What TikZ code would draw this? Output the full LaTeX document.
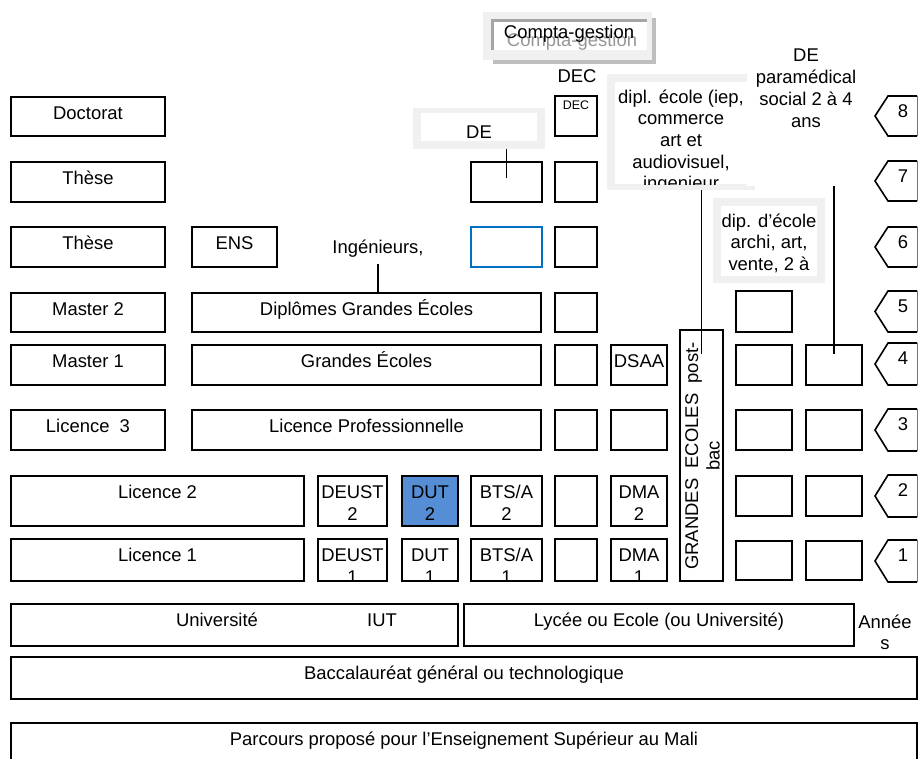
\documentclass[tikz,border=0pt]{standalone}
\usepackage{fontspec}
\setmainfont{Liberation Sans}
\usetikzlibrary{calc}
\definecolor{dutblue}{RGB}{85,142,213}
\definecolor{edgeblue}{RGB}{0,112,192}
\definecolor{framegray}{RGB}{240,240,240}
\definecolor{shadowgray}{RGB}{190,190,190}
\definecolor{innergray}{RGB}{165,165,165}
\definecolor{ghostgray}{RGB}{150,150,150}
\newcommand\ml[1]{\begin{tabular}[t]{@{}c@{}}#1\end{tabular}}
\newcommand\mkbox[6][]{%
  \node[boxst,#1,minimum width={(#5-#3)*1bp},minimum height={(#6-#4)*1bp}] (#2) at ({(#3+#5)/2},{(#4+#6)/2}) {};}
\newcommand\boxtext[3]{\node[lbl] (#1) at ([yshift=-22.5bp]#2.north) {#3};}
\newcommand\cliptext[3]{\begin{scope}
  \clip ([shift={(0.8bp,0.8bp)}]#2.south west) rectangle ([shift={(-0.8bp,-0.8bp)}]#2.north east);
  \node[lbl] (#1) at ([yshift=-22.5bp]#2.north) {#3};\end{scope}}
\newcommand\pent[4]{%
  \draw[pentst] (917,#2) -- (888,#2) -- (875,{(#2+#3)/2}) -- (888,#3) -- (917,#3);
  \draw[pentedge] (917,#2) -- (917,#3);
  \node[lbl] (#1) at (903,{#2+21}) {#4};}
\begin{document}
\begin{tikzpicture}[x=1bp,y=-1bp,
  boxst/.style={draw, line width=1.6bp, inner sep=0, outer sep=0, fill=white},
  lbl/.style={font=\fontsize{18.5}{21.8}\selectfont, inner sep=0, anchor=base},
  small/.style={font=\fontsize{12.5}{14}\selectfont, inner sep=0, anchor=base},
  conn/.style={line width=1.6bp},
  pentst/.style={line width=1.6bp, line join=miter},
  pentedge/.style={line width=0.8bp, draw=black!55},
  framest/.style={fill=framegray, draw=none, inner sep=0, outer sep=0}]
\path[use as bounding box] (0,0) rectangle (923,759);
\clip (0,0) rectangle (923,759);

% ---- Compta-gestion frame
\fill[shadowgray] (493,18) rectangle (656,64);
\node[framest, minimum width=169bp, minimum height=48bp] (cgframe) at (567.5,36) {};
\fill[white] (491,19) rectangle (647,50);
\fill[innergray] (491,19) rectangle (647,22.5);
\fill[innergray] (491,19) rectangle (493.5,50);
\begin{scope}\clip (493.5,22.5) rectangle (647,50);
\node[lbl, text=ghostgray] (cgghost) at (572,47) {Compta-gestion};
\end{scope}
\node[lbl] (cg) at (569,39) {Compta-gestion};

% ---- DEC label
\node[lbl] (declbl) at (577,83) {DEC};

% ---- DE frame
\node[framest, minimum width=132bp, minimum height=41bp] (deframe) at (479,128.5) {};
\fill[white] (421,113) rectangle (537,141);
\node[lbl] (detxt) at (479,138) {DE};

% ---- dipl. ecole frame
\node[framest, minimum width=148bp, minimum height=116bp] (diplf) at (681,132) {};
\fill[white] (615,82) rectangle (747,184);
\begin{scope}\clip (615,82) rectangle (747,184);
\node[lbl] (dipltxt) at (681,103) {\ml{dipl. école (iep,\\commerce\\art et\\audiovisuel,\\ingenieur}};
\end{scope}

% ---- DE paramedical (white, no border)
\node[fill=white, inner sep=0, outer sep=0, minimum width=122bp, minimum height=148bp] (depm) at (808,112) {};
\node[lbl] (depmtxt) at (806,62) {\ml{DE\\paramédical\\social 2 à 4\\ans}};

% ---- dip. d'ecole frame
\node[framest, minimum width=112bp, minimum height=85bp] (dipd) at (769,240.5) {};
\fill[white] (721,206) rectangle (817,276);
\node[lbl] (dipdtxt) at (769,227) {\ml{dip. d’école\\archi, art,\\vente, 2 à}};

% ---- left column
\mkbox{doc}{11}{97}{165}{136}
\mkbox{these7}{11}{162}{165}{202}
\mkbox{these6}{11}{227}{165}{267}
\mkbox{m2}{11}{293}{165}{332}
\mkbox{m1}{11}{345}{165}{385}
\mkbox{l3}{11}{410}{165}{450}
\mkbox{l2}{11}{476}{304}{526}
\mkbox{l1}{11}{539}{304}{581}
\boxtext{doct}{doc}{Doctorat}
\boxtext{these7t}{these7}{Thèse}
\boxtext{these6t}{these6}{Thèse}
\boxtext{m2t}{m2}{Master 2}
\boxtext{m1t}{m1}{Master 1}
\boxtext{l3t}{l3}{Licence\ \ 3}
\boxtext{l2t}{l2}{Licence 2}
\boxtext{l1t}{l1}{Licence 1}

% ---- second column
\mkbox{ens}{192}{227}{277}{267}
\mkbox{dge}{192}{293}{541}{332}
\mkbox{ge}{192}{345}{541}{385}
\mkbox{lp}{192}{410}{541}{450}
\boxtext{enst}{ens}{ENS}
\boxtext{dget}{dge}{Diplômes Grandes Écoles}
\boxtext{get}{ge}{Grandes Écoles}
\boxtext{lpt}{lp}{Licence Professionnelle}
\node[lbl] (ing) at (378,253) {Ingénieurs,};

% ---- short cycles
\mkbox{deust2}{318}{476}{387}{526}
\mkbox{deust1}{318}{539}{387}{581}
\mkbox[fill=dutblue]{dut2}{402}{476}{458}{526}
\mkbox{dut1}{402}{539}{458}{581}
\mkbox{bts2}{471}{476}{542}{526}
\mkbox{bts1}{471}{539}{542}{581}
\boxtext{deust2t}{deust2}{\ml{DEUST\\2}}
\cliptext{deust1t}{deust1}{\ml{DEUST\\1}}
\boxtext{dut2t}{dut2}{\ml{DUT\\2}}
\cliptext{dut1t}{dut1}{\ml{DUT\\1}}
\boxtext{bts2t}{bts2}{\ml{BTS/A\\2}}
\cliptext{bts1t}{bts1}{\ml{BTS/A\\1}}

% ---- DE column
\mkbox{de7}{471}{162}{542}{202}
\mkbox[draw=edgeblue, line width=1.4bp]{de6}{471}{227}{542}{267}

% ---- DEC column
\mkbox{dec8}{555}{96}{597}{136}
\mkbox{dec7}{555}{162}{597}{202}
\mkbox{dec6}{555}{227}{597}{267}
\mkbox{dec5}{555}{293}{597}{332}
\mkbox{dec4}{555}{345}{597}{385}
\mkbox{dec3}{555}{410}{597}{450}
\mkbox{dec2}{555}{476}{597}{526}
\mkbox{dec1}{555}{539}{597}{581}
\node[small] (dect) at (576,109) {DEC};

% ---- DSAA / DMA column
\mkbox{dsaa}{611}{345}{667}{385}
\mkbox{ds3}{611}{410}{667}{450}
\mkbox{dma2}{611}{476}{667}{526}
\mkbox{dma1}{611}{539}{667}{581}
\node[lbl] (dsaat) at (639,367) {DSAA};
\boxtext{dma2t}{dma2}{\ml{DMA\\2}}
\cliptext{dma1t}{dma1}{\ml{DMA\\1}}

% ---- Grandes ecoles post-bac (vertical)
\mkbox{gev}{680}{330}{723}{581}
\node[lbl, rotate=90] (gevt) at (698,456) {\ml{GRANDES\ \ ECOLES\ \ post-\\bac}};

% ---- right columns
\mkbox{a5}{736}{291}{792}{332}
\mkbox{a4}{736}{345}{792}{385}
\mkbox{a3}{736}{410}{792}{450}
\mkbox{a2}{736}{476}{792}{516}
\mkbox{a1}{736}{541}{792}{580}
\mkbox{b4}{806}{345}{862}{385}
\mkbox{b3}{806}{410}{862}{450}
\mkbox{b2}{806}{476}{862}{516}
\mkbox{b1}{806}{541}{862}{580}

% ---- year markers
\pent{y8}{96}{136}{8}
\pent{y7}{161}{201}{7}
\pent{y6}{227}{267}{6}
\pent{y5}{291}{332}{5}
\pent{y4}{343}{385}{4}
\pent{y3}{409}{451}{3}
\pent{y2}{475}{517}{2}
\pent{y1}{540}{582}{1}

% ---- bottom rows
\mkbox{univ}{11}{604}{458}{646}
\mkbox{lycee}{464}{604}{854}{646}
\mkbox{bacc}{11}{657}{917}{699}
\mkbox{parc}{11}{723}{917}{790}
\node[lbl] (univt) at (217,626) {Université};
\node[lbl] (iut) at (382,626) {IUT};
\boxtext{lyceet}{lycee}{Lycée ou Ecole (ou Université)}
\boxtext{bacct}{bacc}{Baccalauréat général ou technologique}
\node[lbl] (parct) at (464,745.5) {Parcours proposé pour l’Enseignement Supérieur au Mali};
\node[lbl] (annees) at (885,628) {\ml{Année\\s}};

% ---- connectors
\draw[conn] ([yshift=-11bp]ing.base) -- (ing.base |- dge.north);
\draw[conn] (de7.north |- deframe.south) -- ([yshift=-16bp]de7.north);
\draw[conn] (gev.north |- diplf.south) -- ([yshift=-24bp]gev.north);
\draw[conn] (b4.north |- depm.south) -- ([yshift=-9bp]b4.north);
\end{tikzpicture}
\end{document}
